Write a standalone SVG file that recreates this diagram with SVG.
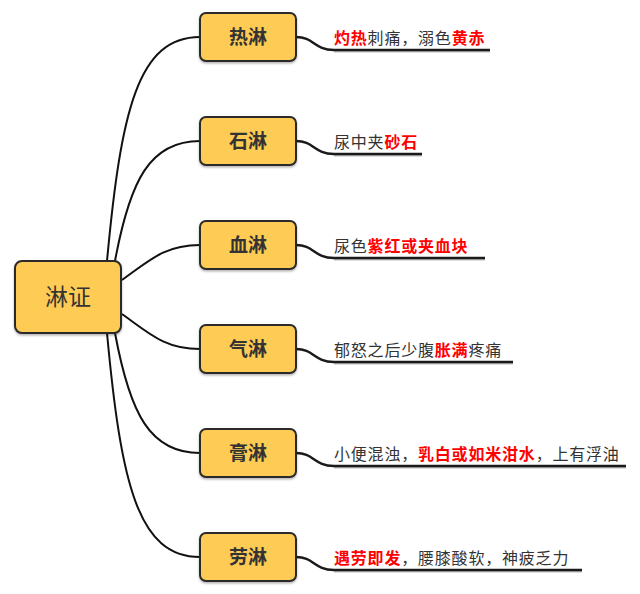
<svg xmlns="http://www.w3.org/2000/svg" width="640" height="594" viewBox="0 0 640 594">
<defs>
<style>
.node{fill:#FECB54;stroke:#2b2b2b;stroke-width:2;filter:url(#sh)}
.lbl{font-family:"Noto Sans CJK SC","Liberation Sans",sans-serif;fill:#333;text-anchor:middle;font-weight:bold;font-size:19px}
.root{font-weight:normal;font-size:23px}
.conn{fill:none;stroke:#111;stroke-width:2}
.ul{fill:none;stroke:#1a1a1a;stroke-width:2.5}
.uls{fill:none;stroke:#bbb;stroke-width:2}
.t{font-family:"Noto Sans CJK SC","Liberation Sans",sans-serif;font-size:16px;letter-spacing:0.8px;fill:#333}
.r{fill:#f00;font-weight:bold}
</style>
<filter id="sh" x="-10%" y="-10%" width="120%" height="130%">
<feDropShadow dx="0" dy="1.5" stdDeviation="1.2" flood-color="#000" flood-opacity="0.3"/>
</filter>
</defs>
<rect width="640" height="594" fill="#fff"/>
<g id="connectors">
<path class="conn" d="M107,261 C121,110 138,37 200,37"/>
<path class="conn" d="M115,261 C130,180 150,141 200,141"/>
<path class="conn" d="M122,280 C150,260 165,245 200,245"/>
<path class="conn" d="M122,314 C150,334 165,349 200,349"/>
<path class="conn" d="M115,333 C130,414 150,453 200,453"/>
<path class="conn" d="M107,333 C121,484 138,557 200,557"/>
<g>
<path class="uls" d="M334,51.5 L490,51.5"/>
<path class="ul" d="M296,37 C314,37 314,50 334,50 L490,50"/>
<path class="uls" d="M334,155.5 L422,155.5"/>
<path class="ul" d="M296,141 C314,141 314,154 334,154 L422,154"/>
<path class="uls" d="M334,259.5 L485,259.5"/>
<path class="ul" d="M296,245 C314,245 314,258 334,258 L485,258"/>
<path class="uls" d="M334,363.5 L513,363.5"/>
<path class="ul" d="M296,349 C314,349 314,362 334,362 L513,362"/>
<path class="uls" d="M334,467.5 L626,467.5"/>
<path class="ul" d="M296,453 C314,453 314,466 334,466 L626,466"/>
<path class="uls" d="M334,571.5 L582,571.5"/>
<path class="ul" d="M296,557 C314,557 314,570 334,570 L582,570"/>
</g>
</g>
<g id="root">
<rect class="node" x="15" y="261" width="106" height="72" rx="7"/>
<text class="lbl root" x="68" y="305">淋证</text>
</g>
<g id="n1">
<rect class="node" x="200" y="13" width="96" height="48" rx="6"/>
<text class="lbl" x="248" y="44">热淋</text>
<text class="t" x="334" y="44"><tspan class="r">灼热</tspan>刺痛，溺色<tspan class="r">黄赤</tspan></text>
</g>
<g id="n2">
<rect class="node" x="200" y="117" width="96" height="48" rx="6"/>
<text class="lbl" x="248" y="148">石淋</text>
<text class="t" x="334" y="148">尿中夹<tspan class="r">砂石</tspan></text>
</g>
<g id="n3">
<rect class="node" x="200" y="221" width="96" height="48" rx="6"/>
<text class="lbl" x="248" y="252">血淋</text>
<text class="t" x="334" y="252">尿色<tspan class="r">紫红或夹血块</tspan></text>
</g>
<g id="n4">
<rect class="node" x="200" y="325" width="96" height="48" rx="6"/>
<text class="lbl" x="248" y="356">气淋</text>
<text class="t" x="334" y="356">郁怒之后少腹<tspan class="r">胀满</tspan>疼痛</text>
</g>
<g id="n5">
<rect class="node" x="200" y="429" width="96" height="48" rx="6"/>
<text class="lbl" x="248" y="460">膏淋</text>
<text class="t" x="334" y="460">小便混浊，<tspan class="r">乳白或如米泔水</tspan>，上有浮油</text>
</g>
<g id="n6">
<rect class="node" x="200" y="533" width="96" height="48" rx="6"/>
<text class="lbl" x="248" y="564">劳淋</text>
<text class="t" x="334" y="564"><tspan class="r">遇劳即发</tspan>，腰膝酸软，神疲乏力</text>
</g>
</svg>
